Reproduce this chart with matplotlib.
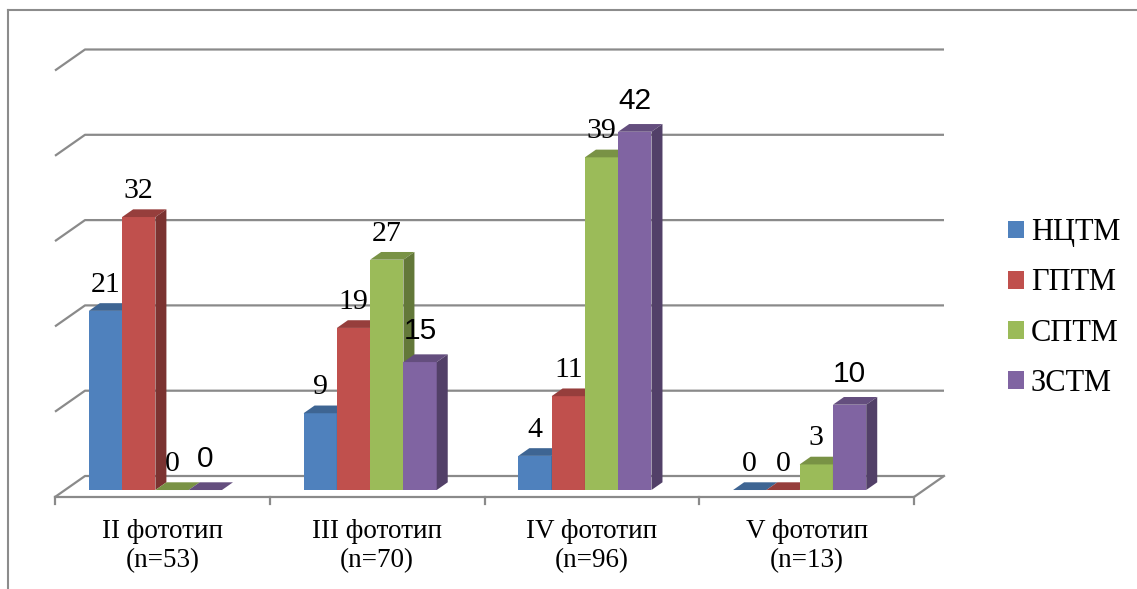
import matplotlib
matplotlib.use("Agg")
import matplotlib.pyplot as plt
from matplotlib.patches import Polygon, Patch
from matplotlib.lines import Line2D
import numpy as np

# ---- data ----
categories = ["II фототип\n(n=53)", "III фототип\n(n=70)", "IV фототип\n(n=96)", "V фототип\n(n=13)"]
series_names = ["НЦТМ", "ГПТМ", "СПТМ", "ЗСТМ"]
ncutm = [21, 9, 4, 0]
gptm = [32, 19, 11, 0]
sptm = [0, 27, 39, 3]
zstm = [0, 15, 42, 10]
series_values = [ncutm, gptm, sptm, zstm]
y_ticks = [0, 10, 20, 30, 40, 50]

# ---- styling ----
front_colors = ["#4F81BD", "#C0504D", "#9BBB59", "#8064A2"]
label_fonts = ["Liberation Serif", "Liberation Serif", "Liberation Serif", "Liberation Sans"]
grid_color = "#8A8A8A"

W_PX, H_PX, DPI = 1137, 589, 100
fig = plt.figure(figsize=(W_PX / DPI, H_PX / DPI), dpi=DPI)
ax = fig.add_axes([0, 0, 1, 1])
ax.set_axis_off()

# axis scales: category units horizontally, value units vertically
CAT_PX = 214.75
VAL_PX = 8.53
X_LEFT_PX, FLOOR_PX = 55, 497
ax.set_xlim(-0.5 - X_LEFT_PX / CAT_PX, -0.5 + (W_PX - X_LEFT_PX) / CAT_PX)
ax.set_ylim((FLOOR_PX - H_PX) / VAL_PX, FLOOR_PX / VAL_PX)

# oblique depth projection (full depth of the floor)
DX = 30 / CAT_PX
DY = 21 / VAL_PX
D_FRONT, D_BACK = 0.333, 0.70
BAR_W = 0.155
GROUP_SHIFT = -0.079


def proj(x, v, d):
    return x + d * DX, v + d * DY


def shade(hex_color, f):
    rgb = np.array(matplotlib.colors.to_rgb(hex_color))
    return tuple(rgb * f)


n_cat = len(categories)
x_lo, x_hi = -0.5, n_cat - 0.5

# back wall gridlines and side wall segments
for t in y_ticks:
    p0 = proj(x_lo, t, 0)
    p1 = proj(x_lo, t, 1)
    p2 = proj(x_hi, t, 1)
    ax.plot([p0[0], p1[0], p2[0]], [p0[1], p1[1], p2[1]],
            color=grid_color, lw=1.6, zorder=1, solid_capstyle="butt")

# floor front edge and right edge
f0 = proj(x_lo, 0, 0)
f1 = proj(x_hi, 0, 0)
f2 = proj(x_hi, 0, 1)
ax.plot([f0[0], f1[0], f2[0]], [f0[1], f1[1], f2[1]], color=grid_color, lw=1.6, zorder=1)
# category tick marks
for b in np.arange(x_lo, x_hi + 0.01, 1.0):
    ax.plot([b, b], [0, -0.8], color=grid_color, lw=1.6, zorder=1)

# bars
x_idx = np.arange(n_cat)
for k, (vals, col) in enumerate(zip(series_values, front_colors)):
    lefts = x_idx + GROUP_SHIFT + (k - 2) * BAR_W
    zb = 3 + k
    ax.bar(lefts + D_FRONT * DX, vals, width=BAR_W, bottom=D_FRONT * DY,
           align="edge", color=col, edgecolor="none", zorder=zb)
    for xl, v in zip(lefts, vals):
        xr = xl + BAR_W
        top = [proj(xl, v, D_FRONT), proj(xr, v, D_FRONT), proj(xr, v, D_BACK), proj(xl, v, D_BACK)]
        side = [proj(xr, 0, D_FRONT), proj(xr, 0, D_BACK), proj(xr, v, D_BACK), proj(xr, v, D_FRONT)]
        ax.add_patch(Polygon(top, closed=True, facecolor=shade(col, 0.78), edgecolor="none", zorder=zb))
        ax.add_patch(Polygon(side, closed=True, facecolor=shade(col, 0.64), edgecolor="none", zorder=zb))
        # value label
        fam = label_fonts[k]
        is_sans = fam == "Liberation Sans"
        off = (23 if is_sans else 19) / VAL_PX
        cx = xl + BAR_W / 2 + D_FRONT * DX
        ax.text(cx, v + D_FRONT * DY + off, f"{v}", ha="center", va="baseline",
                fontsize=21.5, family=fam, color="black", zorder=10)

# category labels
for i, lab in enumerate(categories):
    ax.text(i, -49 / VAL_PX, lab, ha="center", va="center", fontsize=19.5,
            family="Liberation Serif", linespacing=1.2, zorder=10)

# legend
handles = [Patch(facecolor=c, edgecolor="none") for c in front_colors]
fig.legend(handles, series_names, loc="center left",
           bbox_to_anchor=(1008 / W_PX, 1 - 308 / H_PX), frameon=False,
           prop={"family": "Liberation Serif", "size": 22},
           handlelength=0.52, handleheight=0.52, handletextpad=0.23,
           labelspacing=0.69, borderpad=0, borderaxespad=0)

# outer chart border (top and left edges)
fig.add_artist(Line2D([8 / W_PX, 1.0], [1 - 10 / H_PX, 1 - 10 / H_PX],
                      transform=fig.transFigure, color="#8C8C8C", lw=1.5))
fig.add_artist(Line2D([8 / W_PX, 8 / W_PX], [0, 1 - 10 / H_PX],
                      transform=fig.transFigure, color="#8C8C8C", lw=1.5))

fig.savefig("out.png", dpi=DPI)
